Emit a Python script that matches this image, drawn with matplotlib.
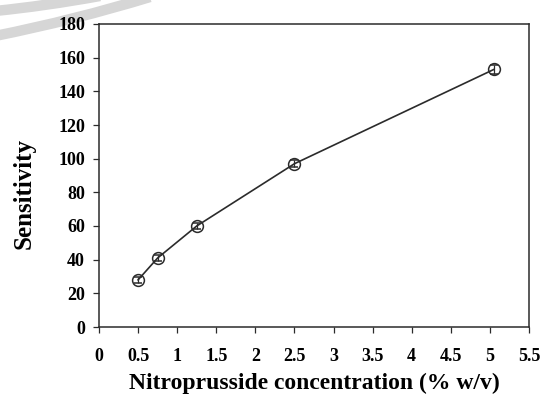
import matplotlib
matplotlib.use("Agg")
import matplotlib.pyplot as plt
from matplotlib.path import Path
from matplotlib.patches import PathPatch

# Sensitivity vs nitroprusside concentration
concentration = [0.5, 0.75, 1.25, 2.5, 5.05]
sensitivity = [28, 41, 60, 97, 153]
sens_err = [2.0, 2.0, 2.0, 2.0, 2.5]

x_ticks = [0, 0.5, 1, 1.5, 2, 2.5, 3, 3.5, 4, 4.5, 5, 5.5]
x_tick_labels = ["0", "0.5", "1", "1.5", "2", "2.5", "3", "3.5", "4", "4.5", "5", "5.5"]
y_ticks = [0, 20, 40, 60, 80, 100, 120, 140, 160, 180]

plt.rcParams["font.family"] = ["Liberation Serif", "DejaVu Serif"]
plt.rcParams["font.weight"] = "bold"

W, H = 540, 400
fig = plt.figure(figsize=(W / 100, H / 100), dpi=100)
fig.patch.set_facecolor("white")

# faint grey arcs in the upper-left corner
def arc(p0, pc, p1, lw):
    verts = [(p0[0] / W, 1 - p0[1] / H), (pc[0] / W, 1 - pc[1] / H), (p1[0] / W, 1 - p1[1] / H)]
    path = Path(verts, [Path.MOVETO, Path.CURVE3, Path.CURVE3])
    fig.add_artist(PathPatch(path, transform=fig.transFigure, fill=False,
                             edgecolor="#d6d6d6", lw=lw, capstyle="butt", zorder=-1))

arc((-5, 11), (45, 6), (100, -4), 7.5)
arc((-5, 36), (75, 20), (150, -3), 7.5)

ax = fig.add_axes([99 / W, 1 - 327 / H, (529 - 99) / W, (327 - 24) / H])

ax.errorbar(concentration, sensitivity, yerr=sens_err, fmt="-o", color="#2b2b2b",
            lw=1.2, ms=8.5, mfc="none", mec="#2b2b2b", mew=1.1,
            ecolor="#2b2b2b", elinewidth=0.9, capsize=3, capthick=0.9)

ax.set_xlim(0, 5.5)
ax.set_ylim(0, 180)
ax.set_xticks(x_ticks)
ax.set_xticklabels(x_tick_labels)
ax.set_yticks(y_ticks)

for side in ["top", "right", "left", "bottom"]:
    ax.spines[side].set_color("#2b2b2b")
    ax.spines[side].set_linewidth(1.1)

ax.tick_params(axis="both", direction="out", length=4, width=0.9, color="#2b2b2b",
               labelsize=13)
ax.tick_params(axis="x", pad=11)
ax.tick_params(axis="y", pad=6)
for lab in ax.get_xticklabels() + ax.get_yticklabels():
    lab.set_fontweight("bold")

ax.set_xlabel("Nitroprusside concentration (% w/v)", fontsize=17, fontweight="bold", labelpad=6)
ax.set_ylabel("Sensitivity", fontsize=18, fontweight="bold", labelpad=16)
ax.yaxis.label.set_y(0.44)

fig.savefig("out.png", dpi=100)
